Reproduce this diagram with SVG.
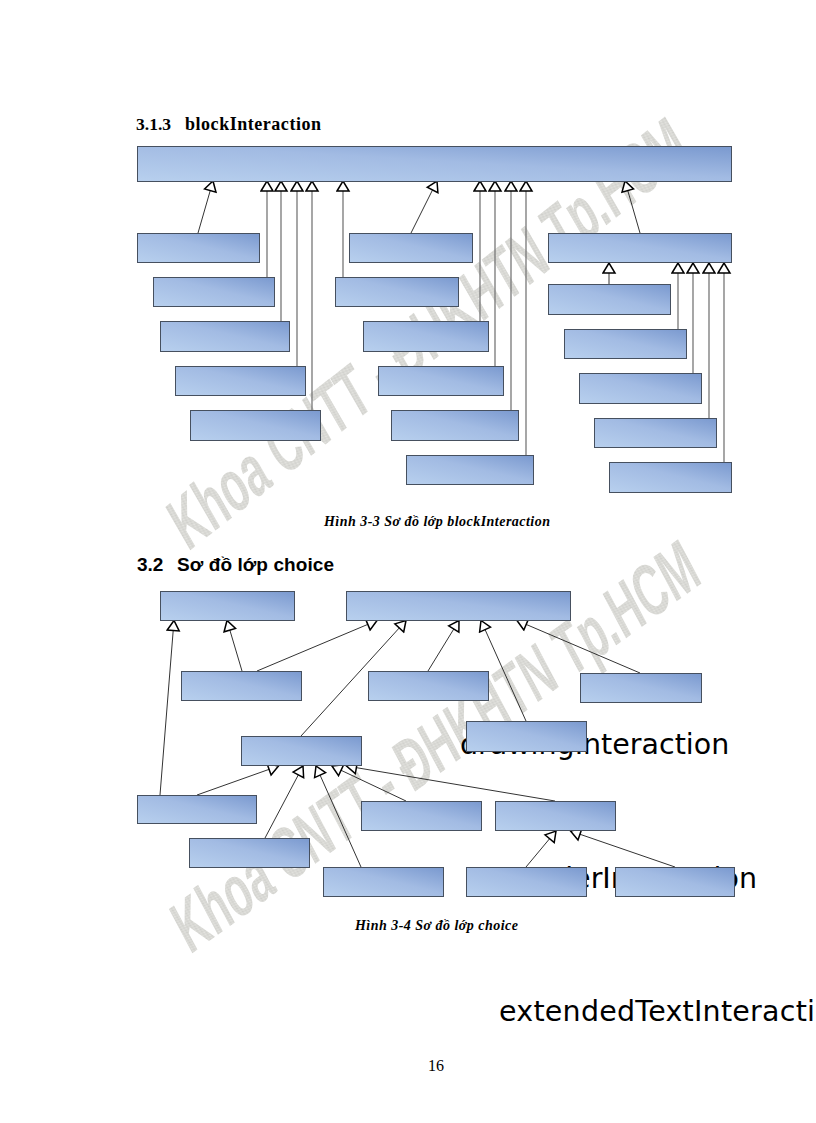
<svg xmlns="http://www.w3.org/2000/svg" width="816" height="1123" viewBox="0 0 816 1123">
<defs>
<linearGradient id="g" x1="0" y1="1" x2="1" y2="0"><stop offset="0" stop-color="#b8d0ee"/><stop offset="0.55" stop-color="#a2bbe3"/><stop offset="1" stop-color="#7a99cf"/></linearGradient>
<pattern id="h" width="2" height="2" patternUnits="userSpaceOnUse"><rect width="2" height="2" fill="#e4e4e0"/><rect width="1" height="1" fill="#cfcfcb"/><rect x="1" y="1" width="1" height="1" fill="#cfcfcb"/></pattern>
<marker id="a" viewBox="0 0 13 15" refX="12" refY="7.5" markerWidth="13" markerHeight="15" markerUnits="userSpaceOnUse" orient="auto"><path d="M2 1.500L12 7.500L2 13.500Z" fill="#fff" stroke="#000" stroke-width="1.500"/></marker>
</defs>
<style>
.b{fill:url(#g);stroke:#46505f;stroke-width:1}
.c line{stroke:#333;stroke-width:1;marker-end:url(#a)}
.c .v{stroke:#777;stroke-width:1.300}
.w{font:bold 72px "Liberation Sans",sans-serif;fill:url(#h)}
.t{font-family:"DejaVu Sans",sans-serif;font-size:28.500px;fill:#000}
.s{font-family:"Liberation Serif",serif;font-weight:bold}
.k{font-family:"Liberation Serif",serif;font-weight:bold;font-style:italic;font-size:14px}
.a{font-family:"Liberation Sans",sans-serif;font-weight:bold;font-size:19px}
</style>
<rect width="816" height="1123" fill="#fff"/>
<text class="w" transform="translate(188 552) rotate(-38) skewX(-8)" textLength="640" lengthAdjust="spacingAndGlyphs">Khoa CNTT - ĐHKHTN Tp.HCM</text>
<text class="w" transform="translate(190 955) rotate(-36) skewX(-8)" textLength="635" lengthAdjust="spacingAndGlyphs">Khoa CNTT - ĐHKHTN Tp.HCM</text>
<text class="s" x="136" y="130" font-size="17.500">3.1.3</text>
<text class="s" x="185" y="130" font-size="18" textLength="136">blockInteraction</text>
<text class="a" x="137" y="571">3.2</text>
<text class="a" x="177" y="571" textLength="157">Sơ đồ lớp choice</text>
<text class="k" x="324" y="526" textLength="226">Hình 3-3 Sơ đồ lớp blockInteraction</text>
<text class="k" x="355" y="930" textLength="163">Hình 3-4 Sơ đồ lớp choice</text>
<text x="428" y="1071" font-family="Liberation Serif,serif" font-size="16">16</text>
<text class="t" x="460" y="754">drawingInteraction</text>
<text class="t" x="757" y="888" text-anchor="end">orderInteraction</text>
<text class="t" x="499" y="1021" textLength="316">extendedTextInteracti</text>
<g id="connectors" class="c">
<line x1="198" y1="233" x2="213" y2="181"/>
<line class="v" x1="267" y1="277" x2="267" y2="181"/>
<line class="v" x1="281" y1="321" x2="281" y2="181"/>
<line class="v" x1="297" y1="366" x2="297" y2="181"/>
<line class="v" x1="312" y1="410" x2="312" y2="181"/>
<line class="v" x1="343" y1="277" x2="343" y2="181"/>
<line x1="411" y1="233" x2="437" y2="181"/>
<line class="v" x1="480" y1="321" x2="480" y2="181"/>
<line class="v" x1="495" y1="366" x2="495" y2="181"/>
<line class="v" x1="511" y1="410" x2="511" y2="181"/>
<line class="v" x1="526" y1="455" x2="526" y2="181"/>
<line x1="640" y1="233" x2="625" y2="181"/>
<line x1="609" y1="284" x2="609" y2="263"/>
<line class="v" x1="678" y1="329" x2="678" y2="263"/>
<line class="v" x1="693" y1="373" x2="693" y2="263"/>
<line class="v" x1="709" y1="418" x2="709" y2="263"/>
<line class="v" x1="724" y1="462" x2="724" y2="263"/>
<line x1="160" y1="795" x2="174" y2="620.500"/>
<line x1="242" y1="671" x2="227" y2="620.500"/>
<line x1="257" y1="671" x2="377" y2="620.500"/>
<line x1="301" y1="736" x2="406" y2="620.500"/>
<line x1="428" y1="671" x2="459" y2="620.500"/>
<line x1="526" y1="721" x2="481" y2="620.500"/>
<line x1="640" y1="673" x2="517" y2="620.500"/>
<line x1="197" y1="795" x2="278.500" y2="766"/>
<line x1="265" y1="838" x2="303" y2="766"/>
<line x1="361" y1="867" x2="316" y2="766"/>
<line x1="406" y1="801" x2="332" y2="766"/>
<line x1="555" y1="801" x2="346.500" y2="766"/>
<line x1="526" y1="867" x2="556" y2="831"/>
<line x1="675" y1="867" x2="570.500" y2="831"/>
</g>
<g id="n1"><rect class="b" x="137.500" y="146.500" width="594" height="35"/></g>
<g id="n2"><rect class="b" x="137.500" y="233.500" width="122" height="29"/></g>
<g id="n3"><rect class="b" x="153.500" y="277.500" width="121" height="29"/></g>
<g id="n4"><rect class="b" x="160.500" y="321.500" width="129" height="30"/></g>
<g id="n5"><rect class="b" x="175.500" y="366.500" width="130" height="29"/></g>
<g id="n6"><rect class="b" x="190.500" y="410.500" width="130" height="30"/></g>
<g id="n7"><rect class="b" x="349.500" y="233.500" width="123" height="29"/></g>
<g id="n8"><rect class="b" x="335.500" y="277.500" width="123" height="29"/></g>
<g id="n9"><rect class="b" x="363.500" y="321.500" width="125" height="30"/></g>
<g id="n10"><rect class="b" x="378.500" y="366.500" width="125" height="29"/></g>
<g id="n11"><rect class="b" x="391.500" y="410.500" width="127" height="30"/></g>
<g id="n12"><rect class="b" x="406.500" y="455.500" width="127" height="29"/></g>
<g id="n13"><rect class="b" x="548.500" y="233.500" width="183" height="29"/></g>
<g id="n14"><rect class="b" x="548.500" y="284.500" width="122" height="30"/></g>
<g id="n15"><rect class="b" x="564.500" y="329.500" width="122" height="29"/></g>
<g id="n16"><rect class="b" x="579.500" y="373.500" width="122" height="30"/></g>
<g id="n17"><rect class="b" x="594.500" y="418.500" width="122" height="29"/></g>
<g id="n18"><rect class="b" x="609.500" y="462.500" width="122" height="30"/></g>
<g id="n19"><rect class="b" x="160.500" y="591.500" width="134" height="29"/></g>
<g id="n20"><rect class="b" x="346.500" y="591.500" width="224" height="29"/></g>
<g id="n21"><rect class="b" x="181.500" y="671.500" width="120" height="29"/></g>
<g id="n22"><rect class="b" x="368.500" y="671.500" width="120" height="29"/></g>
<g id="n23"><rect class="b" x="580.500" y="673.500" width="121" height="29"/></g>
<g id="n24"><rect class="b" x="466.500" y="721.500" width="120" height="30"/></g>
<g id="n25"><rect class="b" x="241.500" y="736.500" width="120" height="29"/></g>
<g id="n26"><rect class="b" x="137.500" y="795.500" width="119" height="28"/></g>
<g id="n27"><rect class="b" x="361.500" y="801.500" width="120" height="29"/></g>
<g id="n28"><rect class="b" x="495.500" y="801.500" width="120" height="29"/></g>
<g id="n29"><rect class="b" x="189.500" y="838.500" width="120" height="29"/></g>
<g id="n30"><rect class="b" x="323.500" y="867.500" width="120" height="29"/></g>
<g id="n31"><rect class="b" x="466.500" y="867.500" width="120" height="29"/></g>
<g id="n32"><rect class="b" x="615.500" y="867.500" width="119" height="29"/></g>
</svg>
